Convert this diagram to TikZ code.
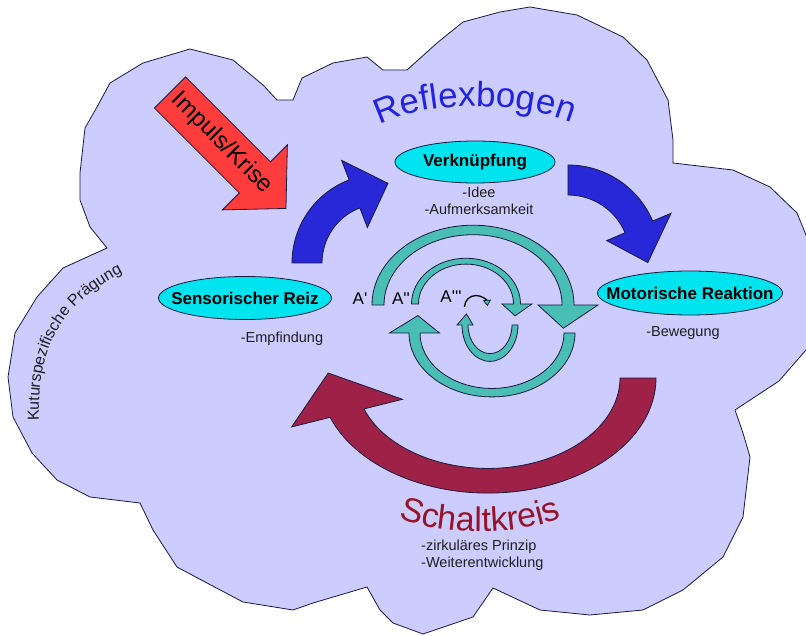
\documentclass[tikz,border=0pt]{standalone}
\usepackage{fontspec}
\setmainfont{Liberation Sans}
\usetikzlibrary{shapes.geometric,decorations.text,arrows.meta}

\definecolor{cloudfill}{RGB}{204,204,255}
\definecolor{cyanfill}{RGB}{0,228,240}
\definecolor{outl}{RGB}{25,25,60}
\definecolor{bluearrow}{RGB}{40,40,216}
\definecolor{tealc}{RGB}{72,190,180}
\definecolor{maroonc}{RGB}{158,34,72}
\definecolor{redarrow}{RGB}{255,60,60}
\definecolor{titleblue}{RGB}{34,34,225}
\definecolor{schaltred}{RGB}{150,20,40}
\definecolor{subgray}{RGB}{30,30,30}

% thick bent arrow: style, mid radius, half width, start angle, head angle,
% head half width, tip angle, tip radius
\newcommand{\bendarrow}[8]{%
  \path[#1] (#4:{#2+#3}) arc[start angle=#4, end angle=#5, radius={#2+#3}]
    -- (#5:{#2+#6}) -- (#7:#8) -- (#5:{#2-#6}) -- (#5:{#2-#3})
    arc[start angle=#5, end angle=#4, radius={#2-#3}] -- cycle;}

\begin{document}
\begin{tikzpicture}[x=1pt,y=-1pt,
  outlined/.style={draw=outl, line width=0.8pt, line join=miter},
  bluefill/.style={outlined, fill=bluearrow},
  tealfill/.style={outlined, fill=tealc},
  maroonfill/.style={outlined, fill=maroonc},
  bubble/.style={ellipse, draw=outl, fill=cyanfill, line width=0.8pt, inner sep=0pt},
  bubbletext/.style={font=\bfseries\fontsize{17}{17}\selectfont, inner sep=0pt},
  sub/.style={font=\fontsize{14.5}{17}\selectfont, text=subgray, inner sep=0pt},
  alabel/.style={font=\fontsize{17}{17}\selectfont, inner sep=0pt}]

\useasboundingbox (0,0) rectangle (806,636);
\fill[white] (0,0) rectangle (806,636);
\clip (0,0) rectangle (806,636);

% cloud
\draw[fill=cloudfill, draw=outl, line width=0.8pt]
  (190,49) -- (233,60) -- (263,85) -- (277,100) -- (293,100) -- (302,78)
  -- (333,63) -- (367,57) -- (383,70) -- (407,70) -- (437,43) -- (463,22)
  -- (500,12) -- (530,7) -- (577,15) -- (623,37) -- (647,60) -- (668,100)
  -- (673,140) -- (673,163) -- (733,170) -- (770,187) -- (797,213)
  -- (806,235) -- (815,280) -- (815,330) -- (806,350) -- (779,381)
  -- (735,410) -- (743,433) -- (750,457) -- (743,517) -- (723,557)
  -- (683,590) -- (643,610) -- (590,615) -- (540,610) -- (493,588)
  -- (473,617) -- (423,634) -- (393,623) -- (380,610) -- (367,587)
  -- (313,603) -- (293,610) -- (243,602) -- (207,583) -- (177,567)
  -- (153,530) -- (140,503) -- (90,497) -- (57,480) -- (32,453)
  -- (13,417) -- (8,377) -- (15,333) -- (37,297) -- (63,268) -- (107,248)
  -- (90,227) -- (80,200) -- (80,173) -- (85,128) -- (97,107) -- (110,83)
  -- (143,63) -- cycle;

% curved caption along the left edge
\path[decorate, decoration={text along path, text align=left,
  text={|\fontsize{16}{16}\selectfont\color{subgray}|Kuturspezifische Prägung}}]
  (39,421) .. controls (37,345) and (60,300) .. (140,264);

% impulse arrow
\begin{scope}[shift={(170,92.5)}, rotate=-45]
  \draw[fill=redarrow, draw=outl, line width=0.8pt]
    (0,22) -- (120,22) -- (120,46) -- (164,0) -- (120,-46) -- (120,-22)
    -- (0,-22) -- cycle;
\end{scope}
\node[rotate=-45, font=\fontsize{24}{24}\selectfont, inner sep=0pt] (impuls)
  at (222,143) {Impuls/Krise};

% title
\path[decorate, decoration={text along path, text align=center,
  text={|\fontsize{35}{35}\selectfont\color{titleblue}|Reflexbogen}}]
  (376,127) .. controls (420,100) and (520,100) .. (575,124);

% reflex arc arrows
\begin{scope}[shift={(381,263)}]
  \bendarrow{bluefill}{74}{15}{180}{249}{36}{275}{80}
\end{scope}
\begin{scope}[shift={(568,257)}]
  \bendarrow{bluefill}{77}{15}{-90}{-23}{35}{4}{80}
\end{scope}

% circuit arrow
\begin{scope}[shift={(488,378)}, yscale=0.685]
  \bendarrow{maroonfill}{150}{18}{0}{160}{59}{182.6}{160}
\end{scope}

% inner loops
\begin{scope}[shift={(473,305)}, yscale=0.79]
  \bendarrow{tealfill}{95}{6}{180}{360}{30}{378}{95}
\end{scope}
\begin{scope}[shift={(492,333)}, yscale=0.77]
  \bendarrow{tealfill}{77.5}{5.5}{0}{180}{25}{197}{77.5}
\end{scope}
\begin{scope}[shift={(466,304)}, yscale=0.84]
  \bendarrow{tealfill}{51}{3.5}{180}{360}{15}{376}{51}
\end{scope}
\begin{scope}[shift={(490,325)}, yscale=1.3]
  \bendarrow{tealfill}{25}{3}{0}{180}{8}{200}{25}
\end{scope}

% smallest loop
\draw[black, line width=1.3pt,
  -{Triangle[length=6pt, width=8pt, fill=tealc, line width=0.6pt]}]
  (464.5,307) arc[start angle=180, end angle=355, radius=11.5];

% loop labels
\node[alabel] (a1) at (360,299) {A\textquotesingle};
\node[alabel] (a2) at (401,299) {A\textquotesingle\textquotesingle};
\node[alabel] (a3) at (451,297) {A\textquotesingle\textquotesingle\textquotesingle};

% stations
\node[bubble, minimum width=160pt, minimum height=42pt,
  label={[bubbletext]center:Verknüpfung}] (verk) at (475,162) {};
\node[bubble, minimum width=173pt, minimum height=43pt,
  label={[bubbletext]center:Sensorischer Reiz}] (sens) at (245,298) {};
\node[bubble, minimum width=185pt, minimum height=44pt,
  label={[bubbletext]center:Motorische Reaktion}] (moto) at (690,293) {};

\node[sub, align=center] (verkt) at (479,201) {-Idee\\-Aufmerksamkeit};
\node[sub] (senst) at (282,339) {-Empfindung};
\node[sub] (motot) at (683,333) {-Bewegung};

% circuit caption
\path[decorate, decoration={text along path, text align=center,
  text={|\fontsize{34}{34}\selectfont\color{schaltred}|Schaltkreis}}]
  (386,512) .. controls (430,538) and (530,538) .. (574,512);
\node[sub, align=left, anchor=north west] (schaltt) at (421,540)
  {-zirkuläres Prinzip\\-Weiterentwicklung};

\end{tikzpicture}
\end{document}
